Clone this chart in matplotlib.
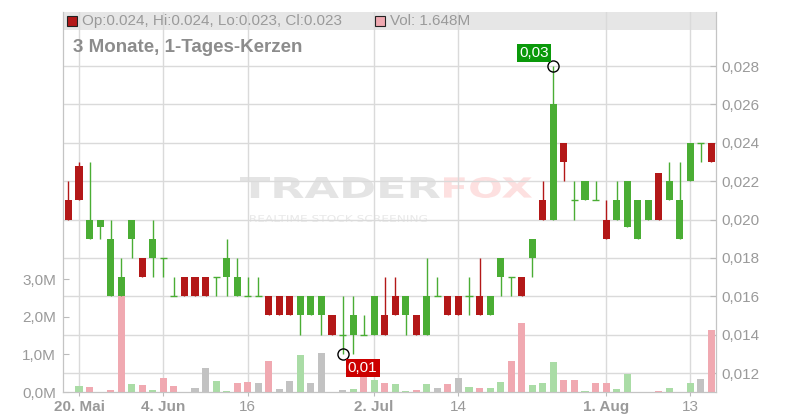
import numpy as np
import matplotlib
matplotlib.use("Agg")
import matplotlib.pyplot as plt
from matplotlib.patches import Rectangle, PathPatch
from matplotlib.textpath import TextPath
from matplotlib.font_manager import FontProperties
from matplotlib.transforms import Affine2D

plt.rcParams['font.family'] = ['Liberation Sans', 'DejaVu Sans']

# daily candles
opens = [0.021, 0.0228, 0.019, 0.0196, 0.016, 0.016, 0.019, 0.018, 0.018, 0.018,
         0.016, 0.017, 0.017, 0.017, 0.017, 0.017, 0.016, 0.016, 0.016, 0.016,
         0.016, 0.016, 0.015, 0.015, 0.015, 0.015, 0.014, 0.014, 0.014, 0.014,
         0.015, 0.016, 0.015, 0.015, 0.014, 0.016, 0.016, 0.016, 0.016, 0.016,
         0.015, 0.017, 0.017, 0.017, 0.018, 0.021, 0.020, 0.024, 0.021, 0.021,
         0.021, 0.020, 0.020, 0.0196, 0.019, 0.020, 0.0224, 0.021, 0.019, 0.022,
         0.024, 0.024]
highs = [0.022, 0.023, 0.023, 0.020, 0.020, 0.018, 0.020, 0.018, 0.020, 0.018,
         0.017, 0.017, 0.017, 0.017, 0.017, 0.019, 0.018, 0.017, 0.017, 0.016,
         0.016, 0.016, 0.016, 0.016, 0.016, 0.015, 0.016, 0.016, 0.015, 0.016,
         0.017, 0.017, 0.016, 0.015, 0.018, 0.017, 0.016, 0.016, 0.017, 0.018,
         0.016, 0.018, 0.017, 0.017, 0.019, 0.022, 0.028, 0.024, 0.022, 0.022,
         0.022, 0.021, 0.022, 0.022, 0.021, 0.021, 0.0224, 0.023, 0.023, 0.024,
         0.024, 0.024]
lows = [0.020, 0.021, 0.019, 0.019, 0.016, 0.016, 0.018, 0.017, 0.017, 0.017,
        0.016, 0.016, 0.016, 0.016, 0.016, 0.016, 0.016, 0.016, 0.016, 0.015,
        0.015, 0.015, 0.014, 0.015, 0.014, 0.014, 0.013, 0.013, 0.014, 0.014,
        0.014, 0.015, 0.014, 0.014, 0.014, 0.016, 0.015, 0.015, 0.015, 0.015,
        0.015, 0.016, 0.016, 0.016, 0.017, 0.020, 0.020, 0.022, 0.020, 0.021,
        0.021, 0.019, 0.020, 0.0196, 0.019, 0.020, 0.020, 0.021, 0.019, 0.022,
        0.023, 0.023]
closes = [0.020, 0.021, 0.020, 0.020, 0.019, 0.017, 0.020, 0.017, 0.019, 0.018,
          0.016, 0.016, 0.016, 0.016, 0.017, 0.018, 0.017, 0.016, 0.016, 0.015,
          0.015, 0.015, 0.016, 0.016, 0.016, 0.014, 0.014, 0.015, 0.014, 0.016,
          0.014, 0.015, 0.016, 0.014, 0.016, 0.016, 0.015, 0.015, 0.016, 0.015,
          0.016, 0.018, 0.017, 0.016, 0.019, 0.020, 0.026, 0.023, 0.021, 0.022,
          0.021, 0.019, 0.021, 0.022, 0.021, 0.021, 0.020, 0.022, 0.021, 0.024,
          0.024, 0.023]
# volume in millions
volume = [0, 0.16, 0.13, 0, 0.05, 2.55, 0.21, 0.19, 0.05, 0.37,
          0.16, 0, 0.11, 0.64, 0.29, 0.03, 0.24, 0.27, 0.24, 0.83,
          0.08, 0.29, 0.99, 0.24, 1.04, 0, 0.05, 0.08, 0.45, 0.32,
          0.24, 0.21, 0.03, 0.05, 0.21, 0.11, 0.21, 0.37, 0.13, 0.11,
          0.11, 0.27, 0.83, 1.84, 0.19, 0.24, 0.80, 0.32, 0.32, 0.03,
          0.24, 0.24, 0.08, 0.48, 0, 0, 0.03, 0.11, 0, 0.24,
          0.35, 1.648]

tick_idx = [1, 9, 17, 29, 37, 51, 59]
tick_labels = ['20. Mai', '4. Jun', '16', '2. Jul', '14', '1. Aug', '13']
price_ticks = [0.012, 0.014, 0.016, 0.018, 0.020, 0.022, 0.024, 0.026, 0.028]
vol_ticks = [0, 1, 2, 3]

RED = '#b31818'
GREEN = '#4aad34'
GRID = '#dadada'
TXT = '#9a9a9a'

o = np.array(opens); h = np.array(highs); l = np.array(lows); c = np.array(closes)
v = np.array(volume) * 1e6
x = np.arange(len(o))

fig = plt.figure(figsize=(8, 4.2), dpi=100)
ax_vol = fig.add_axes([63/800, 28/420, 653/800, 380/420])
ax = ax_vol.twinx()

# volume colours follow the change of the close
prev = np.r_[c[0], c[:-1]]
vcol = np.where(c > prev, '#aadca6', np.where(c < prev, '#f0a9b1', '#c2c2c2'))
ax.bar(x, v, width=0.67, color=vcol, transform=ax_vol.transData, zorder=1.5)

# candles
ccol = np.where(c < o, RED, GREEN)
ax.vlines(x, l, h, colors=ccol, lw=1, zorder=2)
body = o != c
ax.bar(x[body], np.abs(c - o)[body], bottom=np.minimum(o, c)[body], width=0.67,
       color=ccol[body], zorder=3)
ax.hlines(o[~body], x[~body] - 0.335, x[~body] + 0.335, colors=ccol[~body], lw=1, zorder=3)

# max / min markers
imax = int(np.argmax(h)); imin = int(np.argmin(l))
ax.plot([x[imax], x[imin]], [h[imax], l[imin]], 'o', ms=8, mfc='none', mec='black', mew=1, zorder=6)
ax.annotate(f"{h[imax]:.2f}".replace('.', ','), (x[imax], h[imax]), xytext=(-14, 9.5),
            textcoords='offset points', ha='center', va='center', color='white', fontsize=11,
            bbox=dict(boxstyle='square,pad=0.15', fc='#0a990a', ec='none'), zorder=7)
ax.annotate(f"{l[imin]:.2f}".replace('.', ','), (x[imin], l[imin]), xytext=(14.5, -10.2),
            textcoords='offset points', ha='center', va='center', color='white', fontsize=11,
            bbox=dict(boxstyle='square,pad=0.15', fc='#cc0000', ec='none'), zorder=7)

# axes limits
ax_vol.set_xlim(-0.52, 61.43)
ax_vol.set_ylim(0, 10.13e6)
ax.set_ylim(0.011012, 0.030814)

# grids
ax_vol.set_axisbelow(True)
ax.set_axisbelow(True)
ax_vol.grid(axis='x', color=GRID, lw=1)
ax.grid(axis='y', color=GRID, lw=1)

# ticks
ax_vol.set_xticks(tick_idx)
ax_vol.set_xticklabels(tick_labels)
for lab, t in zip(ax_vol.get_xticklabels(), tick_labels):
    if not t.isdigit():
        lab.set_fontweight('bold')
ax_vol.set_yticks([t * 1e6 for t in vol_ticks])
ax_vol.set_yticklabels([f"{t:.1f}M".replace('.', ',') for t in vol_ticks])
ax.set_yticks(price_ticks)
ax.set_yticklabels([f"{t:.3f}".replace('.', ',') for t in price_ticks])

ax_vol.tick_params(axis='x', direction='out', length=3, color='#bbbbbb', labelcolor=TXT,
                   labelsize=11, pad=3)
ax_vol.tick_params(axis='y', direction='in', length=4, color='#bbbbbb', labelcolor=TXT,
                   labelsize=11, pad=5)
ax.tick_params(axis='y', direction='in', length=4, color='#bbbbbb', labelcolor=TXT,
               labelsize=11, pad=4)

for a in (ax, ax_vol):
    a.spines['top'].set_visible(False)
    for s in ('left', 'right', 'bottom'):
        a.spines[s].set_color('#c4c4c4')

# legend band at the top
ax_vol.add_patch(Rectangle((0, (392 - 30) / 380), 1, 18 / 380, transform=ax_vol.transAxes,
                           fc='#e6e6e6', ec='none', zorder=0.2))
ax.plot([0.0145], [0.9763], marker='s', ms=6.5, mfc=RED, mec='#222222', mew=0.8,
        transform=ax.transAxes, clip_on=False, zorder=8)
ax.text(0.0286, 0.9763, f"Op:{o[-1]:.3f}, Hi:{h[-1]:.3f}, Lo:{l[-1]:.3f}, Cl:{c[-1]:.3f}",
        transform=ax.transAxes, ha='left', va='center', fontsize=11, color=TXT, zorder=8)
ax.plot([0.4847], [0.9763], marker='s', ms=6.5, mfc='#f0a9b1', mec='#222222', mew=0.8,
        transform=ax.transAxes, clip_on=False, zorder=8)
ax.text(0.5008, 0.9763, f"Vol: {volume[-1]:.3f}M", transform=ax.transAxes, ha='left',
        va='center', fontsize=11, color=TXT, zorder=8)
ax.text(0.0149, 0.9053, "3 Monate, 1-Tages-Kerzen", transform=ax.transAxes, ha='left',
        va='center', fontsize=13.5, fontweight='bold', color='#8c8c8c', zorder=8)


# faint watermark
def draw_word(text, x0, y0, x1, y1, color, weight='bold'):
    tp = TextPath((0, 0), text, size=1, prop=FontProperties(family='DejaVu Sans', weight=weight))
    bb = tp.get_extents()
    sx = (x1 - x0) / bb.width / 800
    sy = (y1 - y0) / bb.height / 420
    tr = (Affine2D().translate(-bb.x0, -bb.y0).scale(sx, sy)
          .translate(x0 / 800, 1 - y1 / 420) + fig.transFigure)
    ax_vol.add_patch(PathPatch(tp, transform=tr, fc=color, ec='none', zorder=0.3))


draw_word("TRADER", 240, 177, 440, 198, '#e4e4e4')
draw_word("FOX", 444, 177, 532, 198, '#fde0e0')
draw_word("REALTIME STOCK SCREENING", 250, 215, 427, 222, '#e8e8e8', weight='normal')

fig.savefig("out.png", dpi=100)
